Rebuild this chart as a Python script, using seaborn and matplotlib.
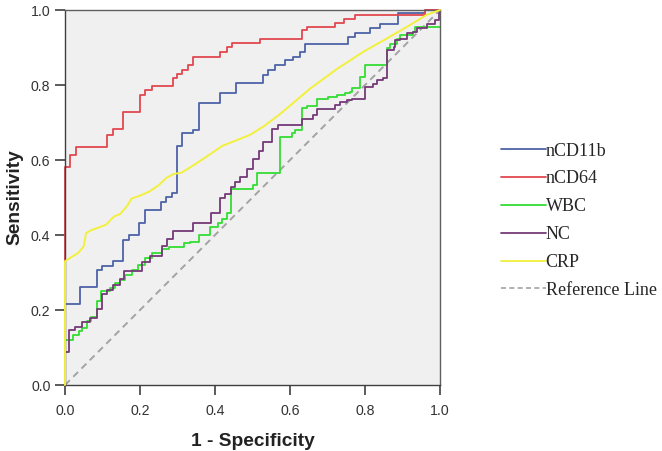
import numpy as np
import pandas as pd
import matplotlib
matplotlib.use("Agg")
import matplotlib.pyplot as plt
from matplotlib.lines import Line2D
import seaborn as sns

# ROC curves
# step curves: x where the step up happens, y after the step
cd11b_fpr = [0, 0, 0.04, 0.085, 0.098, 0.129, 0.155, 0.171, 0.198, 0.213, 0.256, 0.27, 0.285, 0.298,
             0.313, 0.342, 0.358, 0.413, 0.456, 0.529, 0.542, 0.56, 0.587, 0.609, 0.627, 0.64,
             0.755, 0.773, 0.813, 0.84, 0.889, 0.96, 1.0]
cd11b_tpr = [0, 0.215, 0.262, 0.307, 0.317, 0.331, 0.387, 0.4, 0.433, 0.467, 0.489, 0.502, 0.513, 0.637,
             0.671, 0.68, 0.751, 0.779, 0.806, 0.827, 0.84, 0.853, 0.867, 0.876, 0.889, 0.909,
             0.929, 0.94, 0.953, 0.964, 0.991, 1.0, 1.0]

cd64_fpr = [0, 0, 0.013, 0.029, 0.113, 0.129, 0.155, 0.2, 0.213, 0.231, 0.287, 0.298, 0.311, 0.329,
            0.342, 0.413, 0.431, 0.445, 0.52, 0.631, 0.645, 0.72, 0.745, 0.773, 0.96, 1.0]
cd64_tpr = [0, 0.582, 0.613, 0.636, 0.667, 0.684, 0.729, 0.773, 0.787, 0.797, 0.818, 0.829, 0.84, 0.853,
            0.875, 0.889, 0.902, 0.911, 0.922, 0.947, 0.956, 0.965, 0.976, 0.988, 1.0, 1.0]

wbc_fpr = [0, 0, 0.022, 0.036, 0.045, 0.058, 0.07, 0.085, 0.097, 0.12, 0.133, 0.147, 0.16, 0.178,
           0.195, 0.213, 0.231, 0.258, 0.276, 0.316, 0.333, 0.356, 0.387, 0.409, 0.418, 0.431,
           0.442, 0.502, 0.511, 0.573, 0.604, 0.613, 0.631, 0.645, 0.671, 0.702, 0.724, 0.747,
           0.76, 0.764, 0.787, 0.8, 0.858, 0.867, 0.884, 0.893, 0.929, 0.933, 1.0]
wbc_tpr = [0, 0.12, 0.133, 0.145, 0.153, 0.17, 0.182, 0.225, 0.25, 0.258, 0.271, 0.28, 0.293, 0.307,
           0.32, 0.338, 0.353, 0.364, 0.369, 0.378, 0.382, 0.4, 0.422, 0.431, 0.444, 0.458,
           0.522, 0.533, 0.566, 0.662, 0.671, 0.68, 0.74, 0.744, 0.762, 0.769, 0.773, 0.778,
           0.782, 0.791, 0.822, 0.853, 0.898, 0.909, 0.924, 0.933, 0.942, 0.955, 0.955]

nc_fpr = [0, 0, 0.01, 0.027, 0.044, 0.067, 0.085, 0.098, 0.111, 0.129, 0.147, 0.156, 0.204, 0.227,
          0.258, 0.271, 0.287, 0.342, 0.389, 0.413, 0.427, 0.442, 0.453, 0.467, 0.484, 0.502,
          0.516, 0.529, 0.551, 0.569, 0.631, 0.662, 0.671, 0.72, 0.733, 0.751, 0.764, 0.8,
          0.822, 0.831, 0.849, 0.858, 0.876, 0.88, 0.893, 0.911, 0.929, 0.938, 0.964, 0.987,
          0.996, 1.0]
nc_tpr = [0, 0.089, 0.147, 0.156, 0.167, 0.18, 0.204, 0.242, 0.253, 0.267, 0.282, 0.304, 0.329, 0.345,
          0.371, 0.39, 0.412, 0.432, 0.46, 0.5, 0.509, 0.527, 0.542, 0.556, 0.576, 0.602,
          0.624, 0.647, 0.684, 0.693, 0.709, 0.72, 0.736, 0.747, 0.756, 0.76, 0.764, 0.796,
          0.804, 0.813, 0.818, 0.893, 0.902, 0.92, 0.924, 0.938, 0.942, 0.951, 0.964, 0.973,
          0.991, 1.0]

# CRP is fine grained, drawn as a plain line
crp_fpr = [0, 0, 0.015, 0.035, 0.05, 0.056, 0.07, 0.09, 0.11, 0.13, 0.147, 0.166, 0.177, 0.2, 0.225,
           0.25, 0.27, 0.29, 0.31, 0.333, 0.37, 0.42, 0.458, 0.493, 0.53, 0.57, 0.6, 0.653,
           0.724, 0.796, 0.858, 0.92, 0.964, 1.0]
crp_tpr = [0, 0.33, 0.34, 0.352, 0.37, 0.405, 0.413, 0.42, 0.428, 0.449, 0.456, 0.478, 0.497, 0.505,
           0.516, 0.533, 0.552, 0.563, 0.566, 0.58, 0.604, 0.638, 0.653, 0.667, 0.69, 0.72,
           0.745, 0.79, 0.842, 0.889, 0.924, 0.96, 0.987, 1.0]

ref_line = [0, 1]

labels = ["nCD11b", "nCD64", "WBC", "NC", "CRP"]
colors = {"nCD11b": "#4d63a6", "nCD64": "#e2474f", "WBC": "#33dd33", "NC": "#753a78", "CRP": "#f2f03c"}

steps = pd.concat([
    pd.DataFrame({"fpr": cd11b_fpr, "tpr": cd11b_tpr, "marker": "nCD11b"}),
    pd.DataFrame({"fpr": cd64_fpr, "tpr": cd64_tpr, "marker": "nCD64"}),
    pd.DataFrame({"fpr": wbc_fpr, "tpr": wbc_tpr, "marker": "WBC"}),
    pd.DataFrame({"fpr": nc_fpr, "tpr": nc_tpr, "marker": "NC"}),
], ignore_index=True)
crp = pd.DataFrame({"fpr": crp_fpr, "tpr": crp_tpr, "marker": "CRP"})

sns.set_style("ticks", {"axes.facecolor": "#f0f0f0", "axes.edgecolor": "#505050"})
plt.rcParams['font.family'] = ['Liberation Sans', 'DejaVu Sans']

fig = plt.figure(figsize=(6.62, 4.51), dpi=100)
ax = fig.add_axes([0.0982, 0.1463, 0.5665, 0.8315])

ax.plot(ref_line, ref_line, color="#a3a3a3", lw=1.4, ls=(0, (3.5, 2.5)), zorder=1)

sns.lineplot(data=steps, x="fpr", y="tpr", hue="marker", hue_order=labels[:4], palette=colors,
             estimator=None, sort=False, drawstyle="steps-post", lw=1.3, ax=ax, legend=False,
             clip_on=False, zorder=2)
sns.lineplot(data=crp, x="fpr", y="tpr", color=colors["CRP"], estimator=None, sort=False,
             lw=1.4, ax=ax, legend=False, clip_on=False, zorder=3)

ax.set_xlim(0, 1)
ax.set_ylim(0, 1)
ticks = np.arange(0, 1.01, 0.2)
ax.set_xticks(ticks)
ax.set_yticks(ticks)
ax.set_xticklabels([f"{t:.1f}" for t in ticks])
ax.set_yticklabels([f"{t:.1f}" for t in ticks])
ax.tick_params(length=7.5, width=1.2, color="#404040", labelcolor="#333333", labelsize=10.2)
ax.tick_params(axis="x", pad=6)
ax.tick_params(axis="y", pad=3)
for s in ax.spines.values():
    s.set_linewidth(1.0)
    s.set_color("#606060")
ax.spines["left"].set_color("#404040")
ax.spines["bottom"].set_color("#404040")

ax.set_xlabel("1 - Specificity", fontsize=13.8, fontweight="bold", color="#222222", labelpad=11)
ax.set_ylabel("Sensitivity", fontsize=13.8, fontweight="bold", color="#222222", labelpad=5)

handles = [Line2D([], [], color=colors[k], lw=1.3) for k in labels]
handles.append(Line2D([], [], color="#a3a3a3", lw=1.2, ls=(0, (3, 2))))
fig.legend(handles, labels + ["Reference Line"], loc="upper left", bbox_to_anchor=(0.733, 0.72),
           frameon=False, handlelength=2.45, handletextpad=0.0, labelspacing=0.6,
           prop={"family": "Liberation Serif", "size": 13})

fig.savefig("out.png", dpi=100)
